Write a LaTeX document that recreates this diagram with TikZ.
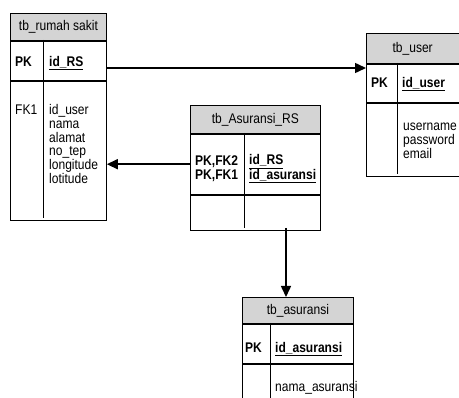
\documentclass[tikz,border=0pt]{standalone}
\usepackage{fontspec}
\setmainfont{Liberation Sans}[FakeStretch=0.86]
\usetikzlibrary{arrows.meta,positioning}
\definecolor{headgrey}{HTML}{D4D4D4}
\tikzset{
  tblhead/.style={draw=black,line width=0.8pt,fill=headgrey,anchor=north west,inner sep=0pt,font=\fontsize{14}{14}\selectfont},
  tblbox/.style={draw=black,line width=0.8pt,fill=white,anchor=north west,inner sep=0pt},
  fld/.style={anchor=base west,inner sep=0pt,align=left,font=\fontsize{14}{13.8}\selectfont},
  rel/.style={-{Triangle[length=11pt,width=10pt]},line width=1.5pt}
}

\begin{document}
\begin{tikzpicture}[x=1pt,y=-1pt]
  \useasboundingbox (0,0) rectangle (459,398);
  \clip (0,0) rectangle (459,398);
  % tb_rumah sakit (multi-line fields sit on the baseline of their last line)
  \node[tblhead,minimum width=96pt,minimum height=27pt] (rshead) at (10,13) {tb\_rumah sakit};
  \node[tblbox,minimum width=96pt,minimum height=39pt] (rspk) at (rshead.south west) {};
  \node[tblbox,minimum width=96pt,minimum height=139pt] (rsattr) at (rspk.south west) {};
  \draw[line width=0.8pt] (43,40) -- (43,218);
  \node[fld] (rskey) at (15,66.5) {\textbf{PK}};
  \node[fld] (rsid) at (49,66.5) {\textbf{\underline{id\_RS}}};
  \node[fld] (rsfk) at (15,114.5) {FK1};
  \node[fld] (rsfields) at (49,183.5) {id\_user\\nama\\alamat\\no\_tep\\longitude\\lotitude};
  % tb_user
  \node[tblhead,minimum width=92.5pt,minimum height=30pt] (userhead) at (366,33) {tb\_user};
  \node[tblbox,minimum width=92.5pt,minimum height=38pt] (userpk) at (userhead.south west) {};
  \node[tblbox,minimum width=92.5pt,minimum height=73pt] (userattr) at (userpk.south west) {};
  \draw[line width=0.8pt] (397,63) -- (397,174);
  \node[fld] (userkey) at (371,87.5) {\textbf{PK}};
  \node[fld] (userid) at (402,87.5) {\textbf{\underline{id\_user}}};
  \node[fld] (userfields) at (403,158.5) {username\\password\\email};
  % tb_Asuransi_RS
  \node[tblhead,minimum width=130pt,minimum height=28pt] (arshead) at (190,105) {tb\_Asuransi\_RS};
  \node[tblbox,minimum width=130pt,minimum height=60pt] (arspk) at (arshead.south west) {};
  \node[tblbox,minimum width=130pt,minimum height=35pt] (arsattr) at (arspk.south west) {};
  \draw[line width=0.8pt] (244,133) -- (244,228);
  \node[fld] (arskey) at (195,179.5) {\textbf{PK,FK2}\\\textbf{PK,FK1}};
  \node[fld] (arsid) at (249,179.5) {\textbf{\underline{id\_RS}}\\\textbf{\underline{id\_asuransi}}};
  % tb_asuransi
  \node[tblhead,minimum width=111pt,minimum height=26pt] (asrhead) at (242,297) {tb\_asuransi};
  \node[tblbox,minimum width=111pt,minimum height=39pt] (asrpk) at (asrhead.south west) {};
  \node[tblbox,minimum width=111pt,minimum height=50pt] (asrattr) at (asrpk.south west) {};
  \draw[line width=0.8pt] (270,323) -- (270,410);
  \node[fld] (asrkey) at (245,352.5) {\textbf{PK}};
  \node[fld] (asrid) at (275,352.5) {\textbf{\underline{id\_asuransi}}};
  \node[fld] (asrfields) at (275,391.5) {nama\_asuransi};
  % relations
  \coordinate (rsout) at (106,68);
  \coordinate (arsdown) at (286,228);
  \draw[rel] (rsout) -- (rsout -| userpk.west);
  \draw[rel] (arspk.west) -- (arspk.west -| rsattr.east);
  \draw[rel] (arsdown) -- (arsdown |- asrhead.north);
\end{tikzpicture}
\end{document}
